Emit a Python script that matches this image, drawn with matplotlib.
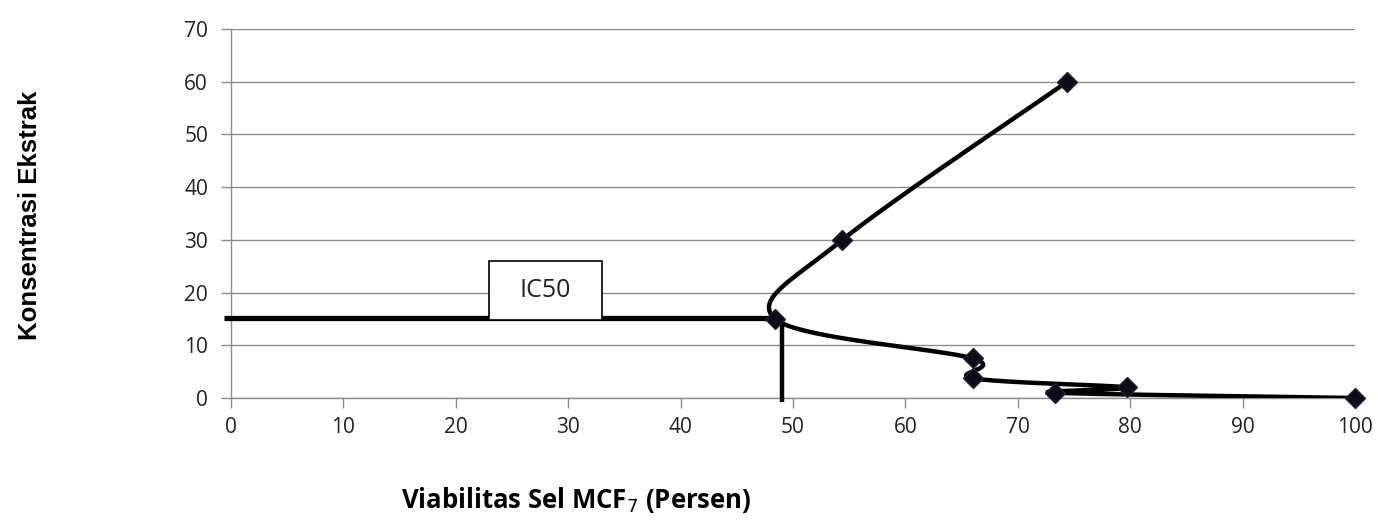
import numpy as np
import matplotlib
matplotlib.use("Agg")
import matplotlib.pyplot as plt
from matplotlib.patches import Rectangle

# data (x = viability %, y = extract concentration)
viabilitas = [100.0, 73.3, 79.7, 66.0, 66.0, 48.4, 54.4, 74.4]
konsentrasi = [0.0, 1.0, 2.0, 3.75, 7.5, 15.0, 30.0, 60.0]
ic50_x = 49.0
ic50_y = 15.1
x_ticks = list(range(0, 101, 10))
y_ticks = list(range(0, 71, 10))


def smooth(xs, ys, n=40):
    # bezier curve through the points, close to excel's "smoothed line"
    p = np.column_stack([xs, ys]).astype(float)
    p = np.vstack([p[0], p, p[-1]])
    out = []
    for i in range(1, len(p) - 2):
        p0, p1, p2, p3 = p[i - 1], p[i], p[i + 1], p[i + 2]
        c1 = p1 + (p2 - p0) / 6
        c2 = p2 - (p3 - p1) / 6
        t = np.linspace(0, 1, n)[:, None]
        seg = (1 - t) ** 3 * p1 + 3 * (1 - t) ** 2 * t * c1 + 3 * (1 - t) * t ** 2 * c2 + t ** 3 * p2
        out.append(seg)
    return np.vstack(out)


fig = plt.figure(figsize=(13.78, 5.23), dpi=100)
ax = fig.add_axes([0.1676, 0.239, 0.8157, 0.7056])

grid_c = "#8c8c8c"
for s in ["top", "right"]:
    ax.spines[s].set_visible(False)
for s in ["left", "bottom"]:
    ax.spines[s].set_color(grid_c)
    ax.spines[s].set_linewidth(1.0)

ax.set_xlim(0, 100)
ax.set_ylim(0, 70)
ax.set_xticks(x_ticks)
ax.set_yticks(y_ticks)
ax.yaxis.grid(True, color=grid_c, linewidth=1.0)
ax.set_axisbelow(True)
ax.tick_params(axis="both", color=grid_c, length=7.5, width=1.0, labelsize=15,
               labelcolor="#222222", direction="out")
ax.tick_params(axis="x", pad=6)
ax.tick_params(axis="y", pad=9)
for lab in ax.get_xticklabels() + ax.get_yticklabels():
    lab.set_family(["Open Sans", "DejaVu Sans"])

curve = smooth(viabilitas, konsentrasi)
ax.plot(curve[:, 0], curve[:, 1], color="black", linewidth=3.2, zorder=3,
        solid_capstyle="butt")
ax.plot(viabilitas, konsentrasi, linestyle="none", marker="D", markersize=10.5,
        color="#0d0d1a", markeredgecolor="#222233", zorder=4, clip_on=False)

# IC50 guide lines
ax.plot([-0.6, ic50_x - 0.4], [ic50_y, ic50_y], color="black", linewidth=3.8,
        clip_on=False, zorder=3, solid_capstyle="butt")
ax.plot([ic50_x, ic50_x], [ic50_y, -0.8], color="black", linewidth=3.2,
        clip_on=False, zorder=3, solid_capstyle="butt")

# IC50 label box
ax.add_patch(Rectangle((23.0, 14.8), 10.0, 11.2, facecolor="white", edgecolor="black",
                       linewidth=1.2, zorder=5))
ax.text(28.0, 20.4, "IC50", ha="center", va="center", fontsize=18,
        family=["Open Sans", "DejaVu Sans"], color="#222222", zorder=6)

fig.text(0.022, 0.588, "Konsentrasi Ekstrak", rotation=90, ha="center", va="center",
         fontsize=18.5, fontweight="bold", family=["Liberation Sans", "DejaVu Sans"])
fig.text(0.418, 0.044, "Viabilitas Sel MCF$_7$ (Persen)", ha="center", va="center",
         fontsize=18.5, fontweight="bold", family=["Open Sans", "DejaVu Sans"])

fig.savefig("out.png", dpi=100)
